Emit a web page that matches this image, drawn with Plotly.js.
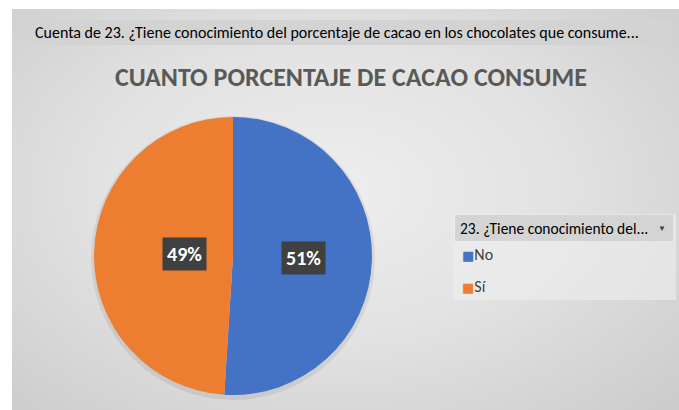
<!DOCTYPE html>
<html><head><meta charset="utf-8">
<script src="https://cdn.plot.ly/plotly-3.0.1.min.js"></script>
<style>
html,body{margin:0;padding:0;background:#fff;}
#wrap{position:relative;width:679px;height:410px;overflow:hidden;}
#panel{position:absolute;left:12px;top:9px;width:667px;height:401px;
background:radial-gradient(ellipse 70% 75% at 48% 45%, #eeeeee 0%, #e2e2e2 50%, #cdcdcd 100%);}
#chart{position:absolute;left:0;top:0;width:679px;height:410px;}
</style></head>
<body><div id="wrap"><div id="panel"></div><div id="chart"></div></div>
<script>
const categories = ["No", "Sí"];
const values = [51, 49];
const colors = ["#4472C4", "#ED7D31"];
const headerText = "Cuenta de 23. ¿Tiene conocimiento del porcentaje de cacao en los chocolates que consume...";
const legendTitle = "23. ¿Tiene conocimiento del...";
const chartTitle = "CUANTO PORCENTAJE DE CACAO CONSUME";

const W = 679, H = 410;
const F = "Calibri, Carlito, 'Noto Sans', 'Open Sans', sans-serif";
// pie domain in pixels
const px0 = 94, px1 = 372, py0 = 117, py1 = 395;
const dom = {x:[px0/W, px1/W], y:[1-py1/H, 1-py0/H]};
const cx = (px0+px1)/2, cy = (py0+py1)/2, R = (px1-px0)/2;

const total = values.reduce((a,b)=>a+b,0);
const annotations = [];
let acc = 0;
values.forEach((v,i)=>{
  const mid = (acc + v/2)/total*2*Math.PI; // clockwise from top
  acc += v;
  const x = cx + 0.51*R*Math.sin(mid);
  const y = cy - 0.51*R*Math.cos(mid);
  annotations.push({x:x/W, y:1-y/H, xref:'paper', yref:'paper', showarrow:false,
    text:'<b>'+Math.round(v/total*100)+'%</b>', font:{family:F, size:20, color:'#ffffff'},
    bgcolor:'#404040', borderpad:4});
});
// legend entries built from the data arrays
categories.forEach((c,i)=>{
  annotations.push({x:460/W, y:1-(254+32*i)/H, xref:'paper', yref:'paper', xanchor:'left', yanchor:'middle',
    showarrow:false, text:'<span style="color:'+colors[i]+';font-family:DejaVu Sans;font-size:13px">■</span>'+c,
    font:{family:F, size:16, color:'#404040'}});
});
annotations.push({x:33/W, y:1-33/H, xref:'paper', yref:'paper', xanchor:'left', yanchor:'middle',
  showarrow:false, text:headerText, font:{family:F, size:16, color:'#000000'}});
annotations.push({x:351/W, y:1-77/H, xref:'paper', yref:'paper', xanchor:'center', yanchor:'middle',
  showarrow:false, text:'<b>'+chartTitle+'</b>', font:{family:F, size:26, color:'#595959'}});
annotations.push({x:458/W, y:1-228/H, xref:'paper', yref:'paper', xanchor:'left', yanchor:'middle',
  showarrow:false, text:legendTitle, font:{family:F, size:15.5, color:'#000000'}});
annotations.push({x:662/W, y:1-228/H, xref:'paper', yref:'paper', xanchor:'center', yanchor:'middle',
  showarrow:false, text:'▼', font:{family:F, size:8, color:'#404040'}});

const shapes = [
  {type:'rect', xref:'paper', yref:'paper', x0:28/W, x1:673/W, y0:1-45/H, y1:1-20/H,
   fillcolor:'#d3d3d3', line:{width:0}, layer:'below'},
  {type:'rect', xref:'paper', yref:'paper', x0:453/W, x1:676/W, y0:1-300/H, y1:1-214/H,
   fillcolor:'rgba(238,238,238,0.6)', line:{width:0}, layer:'below'},
  {type:'rect', xref:'paper', yref:'paper', x0:455/W, x1:673/W, y0:1-241/H, y1:1-215/H,
   fillcolor:'#d4d4d4', line:{width:0}, layer:'below'},
  {type:'circle', xref:'paper', yref:'paper', x0:(px0-3)/W, x1:(px1+3)/W, y0:1-(py1+5)/H, y1:1-(py0-1)/H,
   fillcolor:'rgba(0,0,0,0.07)', line:{width:0}, layer:'below'}
];

const data = [{
  type:'pie', labels:categories, values:values, sort:false, direction:'clockwise', rotation:0,
  marker:{colors:colors, line:{width:0}}, textinfo:'none', hoverinfo:'label+percent',
  domain:dom, showlegend:false
}];

const layout = {
  width:W, height:H, margin:{l:0,r:0,t:0,b:0},
  paper_bgcolor:'rgba(0,0,0,0)', plot_bgcolor:'rgba(0,0,0,0)',
  showlegend:false,
  annotations:annotations, shapes:shapes
};
Plotly.newPlot('chart', data, layout, {displayModeBar:false, staticPlot:true});
</script></body></html>
